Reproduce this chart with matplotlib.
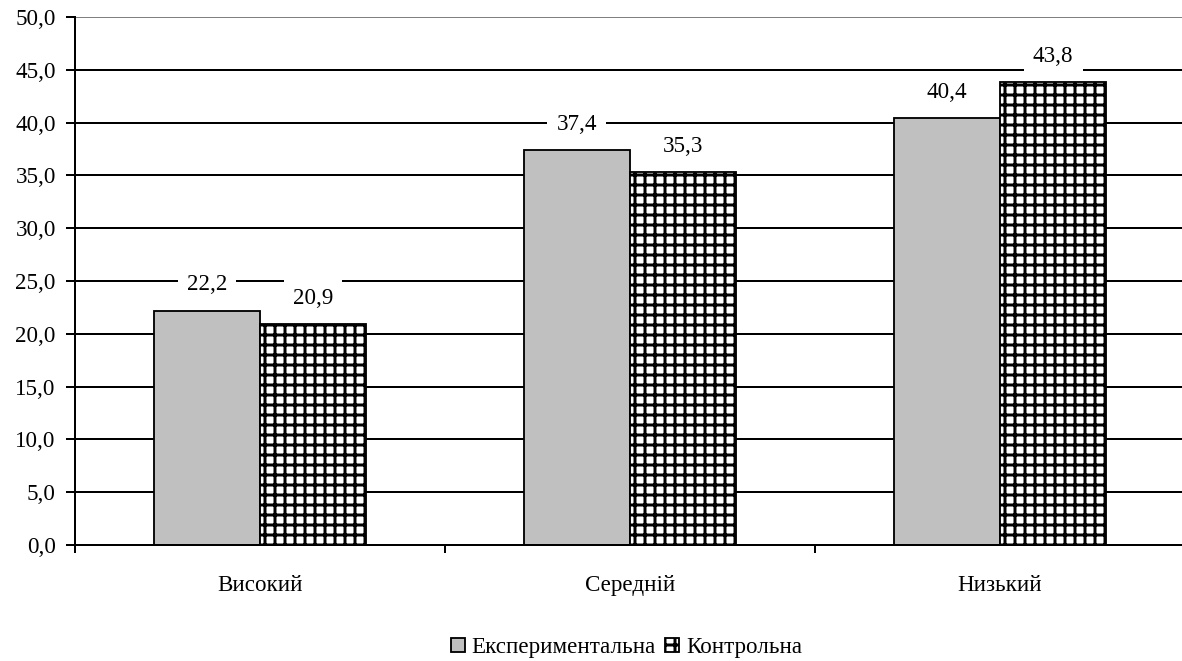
import matplotlib
matplotlib.use('Agg')
import matplotlib.pyplot as plt
import numpy as np

plt.rcParams['font.family'] = ['Liberation Serif', 'DejaVu Serif']
plt.rcParams['hatch.linewidth'] = 1.8

categories = ['Високий', 'Середній', 'Низький']
experimental = [22.2, 37.4, 40.4]
control = [20.9, 35.3, 43.8]
series_names = ['Експериментальна', 'Контрольна']
yticks = [0, 5, 10, 15, 20, 25, 30, 35, 40, 45, 50]

DPI = 120
FS = 13.8
fig = plt.figure(figsize=(1182 / DPI, 661 / DPI), dpi=DPI)
ax = fig.add_axes([75 / 1182, 116 / 661, 1110 / 1182, 528 / 661])

x = np.arange(len(categories))
w = 0.287

# gridlines, top one grey like the original
for t in yticks[1:]:
    ax.axhline(t, color='grey' if t == 50 else 'black', lw=1.2, zorder=1)

b1 = ax.bar(x - w / 2, experimental, w, color='#c0c0c0', edgecolor='black',
            lw=1.1, zorder=2, label=series_names[0])
b2 = ax.bar(x + w / 2, control, w, color='white', edgecolor='black',
            hatch='++', lw=1.1, zorder=2, label=series_names[1])

for bars, vals in [(b1, experimental), (b2, control)]:
    for r, v in zip(bars, vals):
        ax.annotate(('%.1f' % v).replace('.', ','),
                    (r.get_x() + r.get_width() / 2, v),
                    xytext=(0, 15.5), textcoords='offset points',
                    ha='center', va='center', fontsize=FS, zorder=5,
                    bbox=dict(boxstyle='square,pad=0.4', fc='white', ec='none'))

ax.set_xlim(-0.5, 2.5)
ax.set_ylim(0, 50)
ax.set_yticks(yticks)
ax.set_yticklabels([('%.1f' % t).replace('.', ',') for t in yticks], fontsize=FS)
ax.set_xticks([-0.5, 0.5, 1.5, 2.5])
ax.set_xticklabels([])
ax.set_xticks(x, minor=True)
ax.set_xticklabels(categories, minor=True, fontsize=FS)
ax.tick_params(axis='x', which='minor', length=0, pad=18)
ax.tick_params(axis='x', which='major', length=5, width=1.2, direction='out')
ax.tick_params(axis='y', length=5.5, width=1.2, direction='out', pad=6)

for s in ['top', 'right']:
    ax.spines[s].set_visible(False)
ax.spines['left'].set_linewidth(1.2)
ax.spines['bottom'].set_linewidth(1.2)

fig.legend(handles=[b1, b2], labels=series_names, loc='center',
           bbox_to_anchor=(0.53, 0.02), ncol=2, frameon=False, fontsize=FS,
           handlelength=0.6, handleheight=0.6, handletextpad=0.3, columnspacing=0.4)

fig.savefig('out.png', dpi=DPI)
